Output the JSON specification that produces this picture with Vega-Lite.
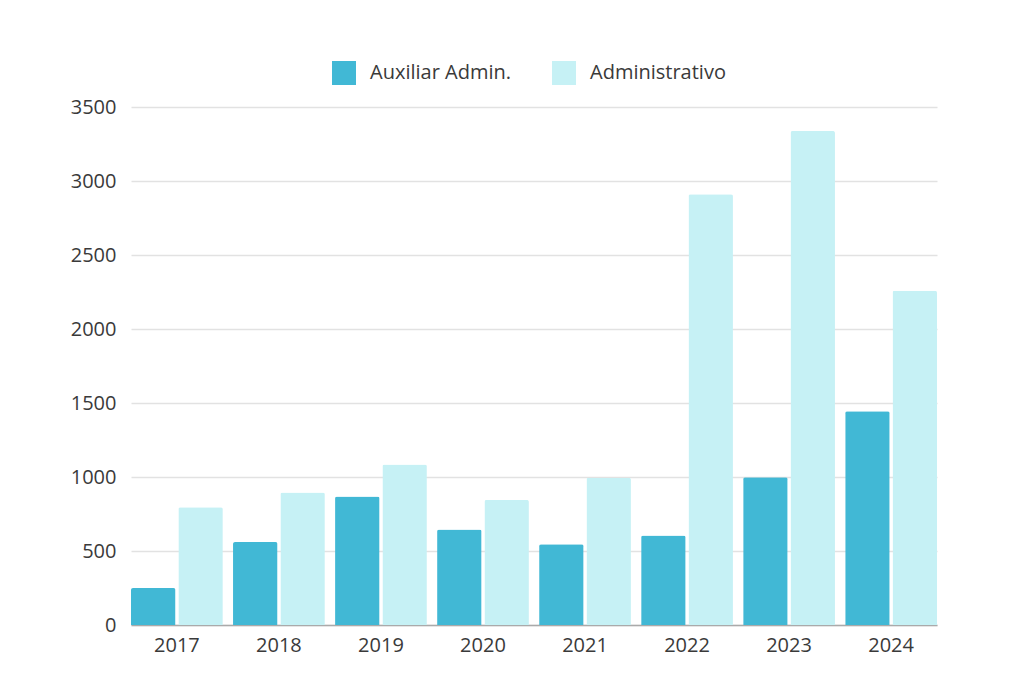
{
  "$schema": "https://vega.github.io/schema/vega-lite/v6.json",
  "width": 806,
  "height": 518,
  "autosize": "none",
  "padding": {"left": 131, "top": 107, "right": 87, "bottom": 66},
  "background": "white",
  "config": {
    "font": "Open Sans",
    "view": {"stroke": null}
  },
  "data": {
    "values": [
      {"year": "2017", "serie": "Auxiliar Admin.", "value": 250},
      {"year": "2017", "serie": "Administrativo", "value": 795},
      {"year": "2018", "serie": "Auxiliar Admin.", "value": 560},
      {"year": "2018", "serie": "Administrativo", "value": 895},
      {"year": "2019", "serie": "Auxiliar Admin.", "value": 868},
      {"year": "2019", "serie": "Administrativo", "value": 1085},
      {"year": "2020", "serie": "Auxiliar Admin.", "value": 645},
      {"year": "2020", "serie": "Administrativo", "value": 845},
      {"year": "2021", "serie": "Auxiliar Admin.", "value": 545},
      {"year": "2021", "serie": "Administrativo", "value": 995},
      {"year": "2022", "serie": "Auxiliar Admin.", "value": 605},
      {"year": "2022", "serie": "Administrativo", "value": 2910},
      {"year": "2023", "serie": "Auxiliar Admin.", "value": 998},
      {"year": "2023", "serie": "Administrativo", "value": 3338},
      {"year": "2024", "serie": "Auxiliar Admin.", "value": 1445},
      {"year": "2024", "serie": "Administrativo", "value": 2258}
    ]
  },
  "mark": {"type": "bar", "cornerRadiusTopLeft": 2, "cornerRadiusTopRight": 2},
  "encoding": {
    "x": {
      "field": "year", "type": "nominal", "title": null,
      "scale": {"paddingInner": 0.1, "paddingOuter": 0},
      "axis": {
        "labelAngle": 0, "labelFontSize": 20, "labelColor": "#3a3a3a",
        "ticks": false, "labelPadding": 10,
        "domainColor": "#aaaaaa", "domainWidth": 1.5
      }
    },
    "xOffset": {
      "field": "serie", "type": "nominal",
      "sort": ["Auxiliar Admin.", "Administrativo"],
      "scale": {"paddingInner": 0.06}
    },
    "y": {
      "field": "value", "type": "quantitative", "title": null,
      "scale": {"domain": [0, 3500]},
      "axis": {
        "values": [0, 500, 1000, 1500, 2000, 2500, 3000, 3500],
        "format": "d",
        "labelFontSize": 20, "labelColor": "#3a3a3a",
        "ticks": false, "domain": false, "labelPadding": 15,
        "gridColor": "#e2e2e2", "gridWidth": 1.5
      }
    },
    "color": {
      "field": "serie", "type": "nominal", "title": null,
      "sort": ["Auxiliar Admin.", "Administrativo"],
      "scale": {"domain": ["Auxiliar Admin.", "Administrativo"], "range": ["#41b8d5", "#c6f1f5"]},
      "legend": {
        "orient": "none", "legendX": 201, "legendY": -46,
        "direction": "horizontal",
        "symbolType": "square", "symbolSize": 576, "symbolStrokeWidth": 0,
        "symbolOpacity": 1,
        "labelFontSize": 20, "labelColor": "#3a3a3a", "labelOffset": 14,
        "columnPadding": 41
      }
    }
  }
}
